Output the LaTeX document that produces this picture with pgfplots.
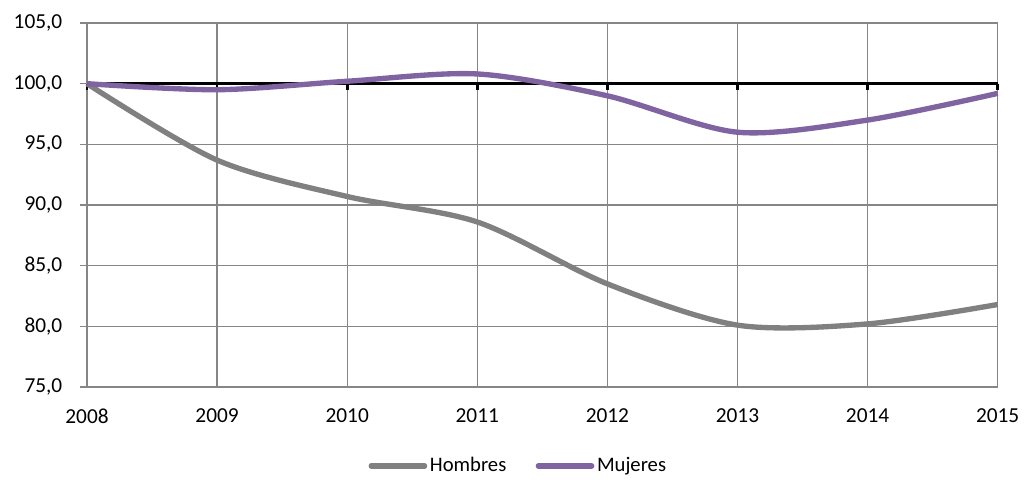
\documentclass[border=0pt]{standalone}
\usepackage{pgfplots}
\pgfplotsset{compat=1.18}
\usepackage{fontspec}
\setmainfont{Carlito}
\definecolor{gridgray}{RGB}{134,134,134}
\definecolor{hombres}{RGB}{128,128,128}
\definecolor{mujeres}{RGB}{128,100,162}
\begin{document}
\fontsize{16}{19}\selectfont
\begin{tikzpicture}
\path[use as bounding box] (-65.25pt,-69pt) rectangle (703.5pt,290.25pt);
\begin{axis}[
    scale only axis,
    width=683pt, height=273pt,
    xmin=0, xmax=7,
    ymin=75, ymax=105,
    xtick={0,1,2,3,4,5,6,7},
    xticklabels={2008,2009,2010,2011,2012,2013,2014,2015},
    ytick={75,80,85,90,95,100,105},
    grid=major,
    grid style={gridgray, line width=1pt},
    axis line style={gridgray, line width=1pt},
    axis lines*=left,
    x tick style={draw=none},
    y tick style={gridgray, line width=1pt},
    tick align=outside,
    major tick length=5pt,
    /pgf/number format/assume math mode=true,
    xticklabel style={yshift=-6pt},
    yticklabel style={xshift=-8pt},
    y tick label style={/pgf/number format/.cd, fixed, fixed zerofill, precision=1, use comma},
    clip=false,
    legend style={at={(0.474,-0.217)}, anchor=center, draw=none, legend columns=2,
        font=\fontsize{15.5}{18}\selectfont,
        /tikz/every even column/.append style={column sep=20pt}},
    legend image code/.code={\draw[#1, line cap=round] (0pt,0pt) -- (40pt,0pt);},
]
\addplot[black, line width=2pt, forget plot] coordinates {(0,100) (7,100)};
\foreach \i in {0,1,2,3,4,5,6,7} {
  \edef\temp{\noexpand\draw[black, line width=2pt] (axis cs:\i,100) -- ++(0pt,-4.5pt);}
  \temp
}
\addplot[hombres, line width=4pt, smooth, tension=0.5] coordinates {
    (0,100.0) (1,93.7) (2,90.7) (3,88.6) (4,83.5) (5,80.1) (6,80.2) (7,81.8)};
\addlegendentry{Hombres}
\addplot[mujeres, line width=4pt, smooth, tension=0.5] coordinates {
    (0,100.0) (1,99.5) (2,100.2) (3,100.8) (4,99.0) (5,96.0) (6,97.0) (7,99.2)};
\addlegendentry{Mujeres}
\end{axis}
\end{tikzpicture}
\end{document}
